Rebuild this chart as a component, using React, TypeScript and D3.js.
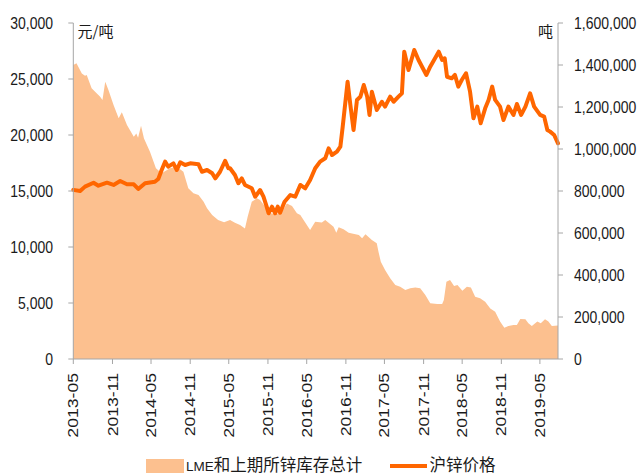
import React from "react";
import * as d3 from "d3";

// 沪锌价格 (元/吨), left axis
const priceDates = [
  "2013-05-01","2013-06-02","2013-06-25","2013-08-04","2013-08-27","2013-10-06","2013-11-06","2013-12-07",
  "2014-01-08","2014-02-09","2014-03-02","2014-04-03","2014-05-19","2014-06-04","2014-06-20","2014-07-06",
  "2014-07-21","2014-08-14","2014-08-30","2014-09-15","2014-10-08","2014-11-01","2014-12-10","2014-12-26",
  "2015-01-19","2015-02-12","2015-02-27","2015-03-21","2015-04-14","2015-04-29","2015-05-07","2015-05-30",
  "2015-06-15","2015-07-01","2015-07-16","2015-08-17","2015-09-02","2015-09-25","2015-10-11","2015-10-26",
  "2015-11-04","2015-11-20","2015-12-05","2015-12-17","2015-12-28","2016-01-18","2016-02-14","2016-03-08",
  "2016-04-01","2016-04-24","2016-05-17","2016-06-10","2016-07-03","2016-07-27","2016-08-12","2016-08-28",
  "2016-09-20","2016-10-06","2016-10-17","2016-10-29","2016-11-09","2016-11-22","2016-12-07","2016-12-23",
  "2017-01-08","2017-01-24","2017-02-09","2017-02-20","2017-03-03","2017-03-26","2017-04-19","2017-05-04",
  "2017-05-28","2017-06-13","2017-07-06","2017-07-22","2017-08-02","2017-08-22","2017-09-18","2017-10-08",
  "2017-11-14","2017-12-02","2018-01-11","2018-01-27","2018-02-08","2018-02-19","2018-03-13","2018-03-28",
  "2018-04-13","2018-04-29","2018-05-19","2018-06-07","2018-06-23","2018-07-11","2018-07-27","2018-08-17",
  "2018-09-02","2018-09-19","2018-10-03","2018-10-26","2018-11-11","2018-12-04","2018-12-28","2019-01-13",
  "2019-02-02","2019-02-22","2019-03-16","2019-04-04","2019-05-02","2019-05-21","2019-06-05","2019-06-18",
  "2019-07-07","2019-07-25"
];
const priceValues = [
  15100,15000,15390,15740,15470,15740,15540,15890,
  15600,15600,15180,15690,15830,16070,16875,17620,
  17170,17470,16875,17560,17320,17470,17380,16720,
  16875,16580,16130,16720,17700,17030,17030,16430,
  15690,16130,15540,15240,14490,15090,14490,13600,
  13010,13600,13010,13600,13060,14045,14640,14490,
  15540,15240,15980,17030,17620,17920,18810,18215,
  18510,18960,20740,22830,24760,22680,20450,23130,
  23420,24470,23420,21790,23870,22230,22970,22530,
  23420,22970,23420,23720,27440,25800,27590,26700,
  25360,26100,27440,26700,26850,25200,25060,25360,
  24320,24910,25510,23870,21490,22530,21050,22380,
  23130,24320,23130,22530,21340,22530,21790,22770,
  21790,22530,23720,22530,21790,21640,20450,20300,
  20000,19260
];

// LME和上期所锌库存总计 (吨), right axis
const stockDates = [
  "2013-05-01","2013-05-16","2013-06-10","2013-06-25","2013-07-03","2013-07-26","2013-09-04","2013-09-15",
  "2013-09-28","2013-10-13","2013-11-06","2013-11-30","2013-12-15","2014-01-08","2014-02-09","2014-02-21",
  "2014-03-01","2014-03-15","2014-03-29","2014-04-26","2014-05-24","2014-06-20","2014-07-29","2014-08-30",
  "2014-09-30","2014-10-23","2014-11-16","2014-12-10","2015-01-03","2015-01-19","2015-02-12","2015-03-12",
  "2015-04-09","2015-05-07","2015-05-30","2015-06-23","2015-07-16","2015-07-29","2015-08-17","2015-09-10",
  "2015-09-25","2015-10-19","2015-11-12","2015-12-13","2016-01-06","2016-01-29","2016-02-22","2016-03-16",
  "2016-04-01","2016-04-24","2016-05-17","2016-06-10","2016-07-11","2016-07-27","2016-09-04","2016-09-17",
  "2016-09-28","2016-10-21","2016-11-14","2017-01-01","2017-01-16","2017-02-01","2017-03-03","2017-03-26",
  "2017-04-03","2017-04-14","2017-05-04","2017-05-28","2017-06-21","2017-07-14","2017-08-07","2017-08-30",
  "2017-09-23","2017-10-16","2017-11-09","2017-12-02","2018-01-04","2018-01-27","2018-02-04","2018-02-16",
  "2018-03-05","2018-03-24","2018-04-09","2018-05-02","2018-05-23","2018-06-11","2018-07-01","2018-07-24",
  "2018-08-17","2018-09-10","2018-10-03","2018-10-26","2018-11-15","2018-12-04","2018-12-28","2019-01-13",
  "2019-01-29","2019-02-22","2019-03-08","2019-03-24","2019-04-19","2019-05-05","2019-05-25","2019-06-10",
  "2019-06-26","2019-07-25"
];
const stockValues = [
  1400000,1408000,1360000,1349000,1352000,1289000,1249000,1233000,
  1320000,1281000,1209000,1146000,1175000,1114000,1058000,1074000,
  1053000,1111000,1050000,987000,908000,884000,908000,916000,
  892000,813000,789000,781000,749000,718000,686000,662000,
  651000,662000,649000,638000,622000,678000,749000,765000,
  757000,725000,694000,690000,702000,741000,729000,694000,
  686000,650000,614000,654000,650000,662000,630000,601000,
  627000,618000,601000,590000,575000,594000,567000,551000,
  511000,463000,424000,384000,352000,344000,329000,337000,
  341000,337000,305000,265000,262000,262000,281000,368000,
  376000,348000,352000,325000,344000,341000,297000,289000,
  273000,241000,225000,178000,149000,157000,162000,162000,
  190000,189000,170000,157000,178000,170000,189000,178000,
  157000,160000
];

const xTickLabels = [
  "2013-05","2013-11","2014-05","2014-11","2015-05","2015-11","2016-05",
  "2016-11","2017-05","2017-11","2018-05","2018-11","2019-05"
];
const leftTicks = [0, 5000, 10000, 15000, 20000, 25000, 30000];
const rightTicks = [0, 200000, 400000, 600000, 800000, 1000000, 1200000, 1400000, 1600000];

const AREA_COLOR = "#FCC08F";
const LINE_COLOR = "#FF6600";
const AXIS_COLOR = "#A6A6A6";
const TEXT_COLOR = "#1a1a1a";
const NUM_FONT = "'Liberation Sans', Arial, sans-serif";
const CJK_FONT = "'Noto Sans CJK SC', 'Liberation Sans', sans-serif";

export default function App() {
  const parse = d3.timeParse("%Y-%m-%d");
  const parseM = d3.timeParse("%Y-%m");
  const left = 73.3, right = 558, top = 23, bottom = 359;

  const x = d3.scaleTime()
    .domain([parse("2013-05-01") as Date, parse("2019-07-25") as Date])
    .range([left, right]);
  const yL = d3.scaleLinear().domain([0, 30000]).range([bottom, top]);
  const yR = d3.scaleLinear().domain([0, 1600000]).range([bottom, top]);

  const stock = stockDates.map((d, i) => ({ d: parse(d) as Date, v: stockValues[i] }));
  const price = priceDates.map((d, i) => ({ d: parse(d) as Date, v: priceValues[i] }));

  const areaPath = d3.area<{ d: Date; v: number }>()
    .x((p) => x(p.d))
    .y0(yR(0))
    .y1((p) => yR(p.v))(stock) as string;
  const linePath = d3.line<{ d: Date; v: number }>()
    .x((p) => x(p.d))
    .y((p) => yL(p.v))(price) as string;

  const fmt = d3.format(",");

  return (
    <svg
      width={641}
      height={475}
      style={{ position: "absolute", left: 0, top: 0, background: "#fff" }}
    >
      <path d={areaPath} fill={AREA_COLOR} stroke="none" />
      <path
        d={linePath}
        fill="none"
        stroke={LINE_COLOR}
        strokeWidth={4}
        strokeLinejoin="round"
        strokeLinecap="round"
      />

      {/* axes lines */}
      <line x1={left} x2={left} y1={top} y2={bottom} stroke={AXIS_COLOR} />
      <line x1={right} x2={right} y1={top} y2={bottom} stroke={AXIS_COLOR} />
      <line x1={left} x2={right} y1={bottom} y2={bottom} stroke={AXIS_COLOR} />

      {/* left axis */}
      {leftTicks.map((t) => (
        <g key={"l" + t}>
          <line x1={left - 5} x2={left} y1={yL(t)} y2={yL(t)} stroke={AXIS_COLOR} />
          <text
            transform={`translate(${53},${yL(t)}) scale(1,1.15)`}
            textAnchor="end"
            dy="0.36em"
            fontFamily={NUM_FONT}
            fontSize={14}
            fill={TEXT_COLOR}
          >
            {fmt(t)}
          </text>
        </g>
      ))}

      {/* right axis */}
      {rightTicks.map((t) => (
        <g key={"r" + t}>
          <line x1={right} x2={right + 5} y1={yR(t)} y2={yR(t)} stroke={AXIS_COLOR} />
          <text
            transform={`translate(${574},${yR(t)}) scale(1,1.15)`}
            textAnchor="start"
            dy="0.36em"
            fontFamily={NUM_FONT}
            fontSize={14}
            fill={TEXT_COLOR}
          >
            {fmt(t)}
          </text>
        </g>
      ))}

      {/* bottom axis */}
      {xTickLabels.map((lab) => {
        const xx = x(parseM(lab) as Date);
        return (
          <g key={lab}>
            <line x1={xx} x2={xx} y1={bottom} y2={bottom + 5} stroke={AXIS_COLOR} />
            <text
              transform={`translate(${xx},${373}) rotate(-90) scale(1.26,1)`}
              textAnchor="end"
              dy="0.36em"
              fontFamily={NUM_FONT}
              fontSize={14}
              fill={TEXT_COLOR}
            >
              {lab}
            </text>
          </g>
        );
      })}

      {/* units */}
      <text x={77.5} y={37} fontFamily={CJK_FONT} fontSize={15} fill={TEXT_COLOR}>
        元/吨
      </text>
      <text x={553} y={37} textAnchor="end" fontFamily={CJK_FONT} fontSize={15} fill={TEXT_COLOR}>
        吨
      </text>

      {/* legend */}
      <rect x={146} y={459} width={38} height={14} fill={AREA_COLOR} />
      <text x={186} y={471} fontFamily={CJK_FONT} fontSize={16.5} fill={TEXT_COLOR}>
        <tspan fontFamily={NUM_FONT} fontSize={13.5}>LME</tspan>
        <tspan>和上期所锌库存总计</tspan>
      </text>
      <line x1={390} x2={427} y1={466} y2={466} stroke={LINE_COLOR} strokeWidth={4} />
      <text x={429.5} y={471} fontFamily={CJK_FONT} fontSize={16.5} fill={TEXT_COLOR}>
        沪锌价格
      </text>
    </svg>
  );
}
